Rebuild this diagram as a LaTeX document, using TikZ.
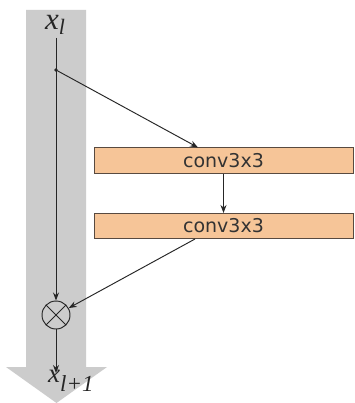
\documentclass[tikz,border=0pt]{standalone}
\usepackage{fontspec}
\newfontfamily\boxfont{DejaVu Sans}
\newfontfamily\lblfont{Liberation Serif}
\usetikzlibrary{arrows.meta}
\definecolor{barGray}{RGB}{204,204,204}
\definecolor{peach}{RGB}{246,197,152}
\definecolor{boxLine}{RGB}{88,74,64}
\begin{document}
\begin{tikzpicture}[x=1pt,y=-1pt,
  conn/.style={draw=black!85,line width=0.95pt,-{Stealth[length=8pt,width=6pt]}},
  convbox/.style={draw=boxLine,line width=1pt,fill=peach,minimum width=259pt,minimum height=25pt,inner sep=0pt,font=\boxfont\fontsize{19}{21}\selectfont,text=black!80},
  lbl/.style={inner sep=0pt,anchor=base west,font=\lblfont\itshape,text=black!85}]
\useasboundingbox (0,0) rectangle (354,403);
\fill[white] (0,0) rectangle (354,403);
\fill[barGray] (26,10) -- (86,10) -- (86,367) -- (107,367) -- (56.5,403) -- (6,367) -- (26,367) -- cycle;
\node[lbl] (xl) at (45,30) {\fontsize{31}{33}\selectfont x\raisebox{-5pt}{\fontsize{22}{24}\selectfont l}};
\node[lbl] (xl1) at (48,382) {\fontsize{27}{29}\selectfont x\raisebox{-9pt}{\fontsize{23}{25}\selectfont l+1}};
\coordinate (top) at (56,38);
\fill[black!85] (56,70) circle (1.8pt);
\coordinate (dot) at (56,70);
\node[convbox] (c1) at (223.5,160.5) {conv3x3};
\node[convbox] (c2) at (223.5,226) {conv3x3};
\node[draw=black!85,line width=0.95pt,circle,minimum size=28pt,inner sep=0pt] (op) at (56,315) {};
\draw[black!85,line width=0.95pt] (op.45) -- (op.225) (op.135) -- (op.315);
\coordinate (end) at (56,373);
\draw[draw=black!85,line width=0.95pt] (top) -- (dot);
\draw[conn] (dot) -- (op);
\draw[conn] (dot) -- (c1.north -| 198,0);
\draw[conn] (c1) -- (c2);
\draw[conn] (c2.south -| 195,0) -- (op);
\draw[conn] (op) -- (end);
\end{tikzpicture}
\end{document}
